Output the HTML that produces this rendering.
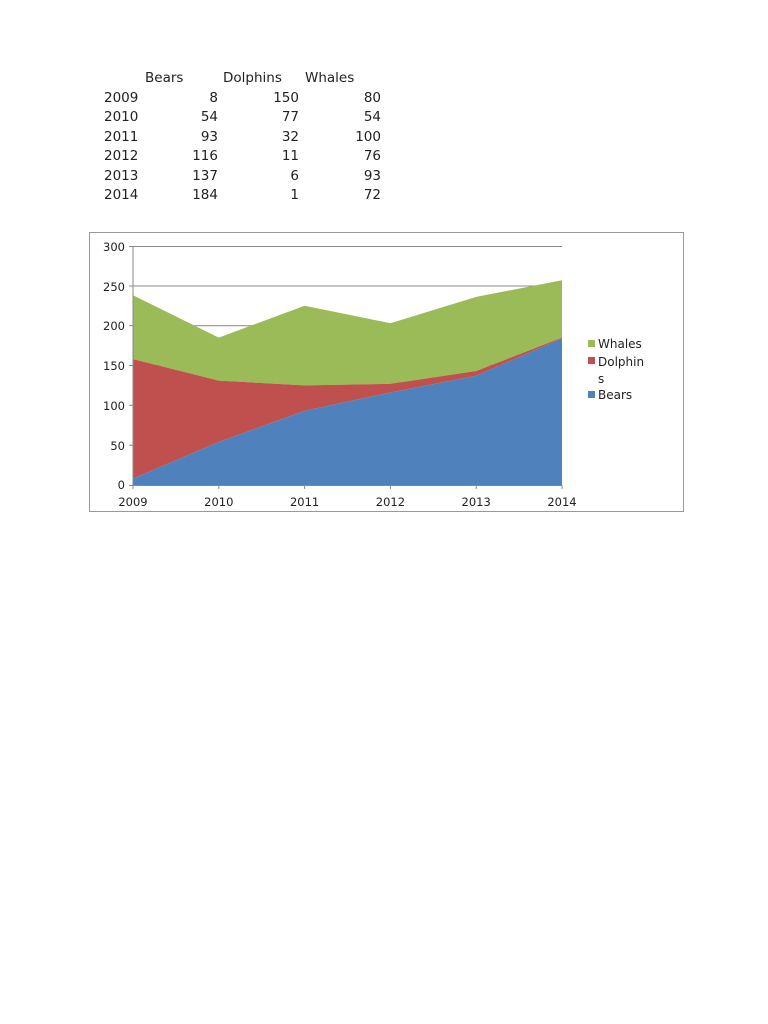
<!DOCTYPE html>
<html><head><style>
body{margin:0;background:#fff;width:768px;height:1024px;position:relative;font-family:"DejaVu Sans","Liberation Sans",sans-serif;}
</style></head><body>
<svg width="768" height="1024" style="position:absolute;left:0;top:0" font-family="DejaVu Sans, Liberation Sans, sans-serif">
<g font-size="13.5" fill="#222">
<text x="145" y="82">Bears</text><text x="223" y="82">Dolphins</text><text x="305" y="82">Whales</text>
<g>
<text x="104" y="102">2009</text><text x="104" y="121">2010</text><text x="104" y="141">2011</text><text x="104" y="160">2012</text><text x="104" y="180">2013</text><text x="104" y="199">2014</text>
</g>
<g text-anchor="end">
<text x="218" y="102">8</text><text x="218" y="121">54</text><text x="218" y="141">93</text><text x="218" y="160">116</text><text x="218" y="180">137</text><text x="218" y="199">184</text>
<text x="299" y="102">150</text><text x="299" y="121">77</text><text x="299" y="141">32</text><text x="299" y="160">11</text><text x="299" y="180">6</text><text x="299" y="199">1</text>
<text x="381" y="102">80</text><text x="381" y="121">54</text><text x="381" y="141">100</text><text x="381" y="160">76</text><text x="381" y="180">93</text><text x="381" y="199">72</text>
</g>
</g>
<rect x="89.5" y="232.5" width="594" height="279" fill="#fff" stroke="#999"/>
<g stroke="#888" stroke-width="1">
<line x1="133" y1="246.5" x2="562" y2="246.5"/><line x1="133" y1="286" x2="562" y2="286"/><line x1="133" y1="325.7" x2="562" y2="325.7"/><line x1="133" y1="365.5" x2="562" y2="365.5"/>
</g>
<polygon fill="#9bbb59" points="133,295.3 218.8,337.6 304.6,305.7 390.4,323.2 476.2,296.9 562,280.2 562,337.6 476.2,371 390.4,383.8 304.6,385.4 218.8,380.6 133,359.1"/>
<polygon fill="#c0504d" points="133,359.1 218.8,380.6 304.6,385.4 390.4,383.8 476.2,371 562,337.6 562,338.4 476.2,375.8 390.4,392.5 304.6,410.9 218.8,442 133,478.6"/>
<polygon fill="#4f81bd" points="133,478.6 218.8,442 304.6,410.9 390.4,392.5 476.2,375.8 562,338.4 562,485 133,485"/>
<g stroke="#888"><line x1="133" y1="246" x2="133" y2="489"/><line x1="129" y1="485.5" x2="562" y2="485.5"/>
<line x1="129" y1="246.5" x2="133" y2="246.5"/><line x1="129" y1="286" x2="133" y2="286"/><line x1="129" y1="325.7" x2="133" y2="325.7"/><line x1="129" y1="365.5" x2="133" y2="365.5"/><line x1="129" y1="405.3" x2="133" y2="405.3"/><line x1="129" y1="445.2" x2="133" y2="445.2"/>
<line x1="218.8" y1="485" x2="218.8" y2="489"/><line x1="304.6" y1="485" x2="304.6" y2="489"/><line x1="390.4" y1="485" x2="390.4" y2="489"/><line x1="476.2" y1="485" x2="476.2" y2="489"/><line x1="562" y1="485" x2="562" y2="489"/></g>
<g font-size="11.5" fill="#222" text-anchor="end">
<text x="125" y="251">300</text><text x="125" y="291">250</text><text x="125" y="330">200</text><text x="125" y="370">150</text><text x="125" y="410">100</text><text x="125" y="450">50</text><text x="125" y="489">0</text>
</g>
<g font-size="11.5" fill="#222" text-anchor="middle">
<text x="133" y="506">2009</text><text x="218.8" y="506">2010</text><text x="304.6" y="506">2011</text><text x="390.4" y="506">2012</text><text x="476.2" y="506">2013</text><text x="562" y="506">2014</text>
</g>
<rect x="588" y="340" width="7" height="7" fill="#9bbb59"/>
<rect x="588" y="357" width="7" height="7" fill="#c0504d"/>
<rect x="588" y="391" width="7" height="7" fill="#4f81bd"/>
<g font-size="12" fill="#222">
<text x="598" y="348">Whales</text><text x="598" y="366">Dolphin</text><text x="598" y="383">s</text><text x="598" y="399">Bears</text>
</g>
</svg>
</body></html>
